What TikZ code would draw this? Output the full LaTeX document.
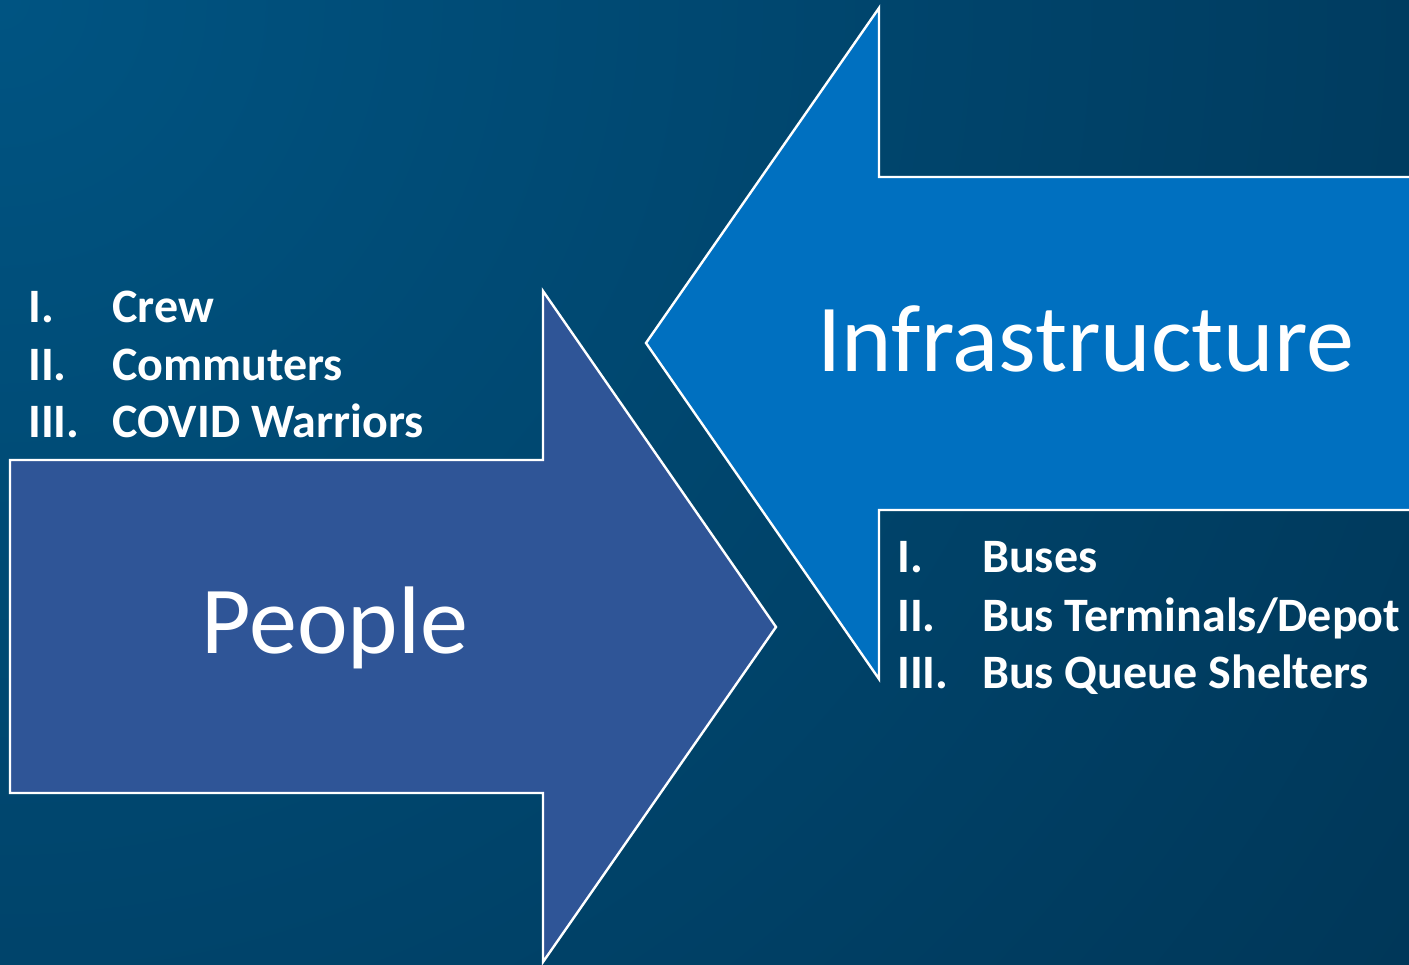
\documentclass[tikz,border=0pt]{standalone}
\usepackage{fontspec}
\setmainfont{Carlito}
\definecolor{bgA}{RGB}{0,84,130}
\definecolor{bgB}{RGB}{0,26,47}
\definecolor{peopleblue}{RGB}{47,85,151}
\definecolor{infrablue}{RGB}{0,112,192}
\pgfdeclareradialshading{bgshade}{\pgfpoint{0bp}{0bp}}{color(0bp)=(bgA); color(50bp)=(bgB)}
\tikzset{
  arrowshape/.style={draw=white, line width=2.4pt, line join=miter},
  listnum/.style={anchor=base west, inner sep=0pt, text=white, font=\fontsize{48}{54}\selectfont\bfseries},
  listtxt/.style={anchor=base west, inner sep=0pt, text=white, font=\fontsize{48}{54}\selectfont\bfseries},
  bigtxt/.style={anchor=base, inner sep=0pt, text=white, font=\fontsize{96}{100}\selectfont}
}
\begin{document}
\begin{tikzpicture}[x=1pt, y=-1pt]
\useasboundingbox (0,0) rectangle (1409,965);
\begin{scope}
  \clip (0,0) rectangle (1409,965);
  \shade[shading=bgshade] (-1710,-1710) rectangle (1710,1710);
  % Infrastructure arrow (pointing left)
  \filldraw[arrowshape, fill=infrablue]
    (1420,177) -- (879,177) -- (879,8) -- (646,343) -- (879,679) -- (879,510) -- (1420,510);
  % People arrow (pointing right)
  \filldraw[arrowshape, fill=peopleblue]
    (10,460) -- (543,460) -- (543,291) -- (776,627) -- (543,962) -- (543,793) -- (10,793) -- cycle;
\end{scope}
\node[bigtxt] (infra) at (1086,372) {Infrastructure};
\node[bigtxt] (people) at (335,653) {People};
% People list
\node[listnum] (pn1) at (28,323) {I.};
\node[listtxt] (pt1) at (112,323) {Crew};
\node[listnum] (pn2) at (28,381) {II.};
\node[listtxt] (pt2) at (112,381) {Commuters};
\node[listnum] (pn3) at (28,438) {III.};
\node[listtxt] (pt3) at (112,438) {COVID Warriors};
% Infrastructure list
\node[listnum] (in1) at (897,572) {I.};
\node[listtxt] (it1) at (982,572) {Buses};
\node[listnum] (in2) at (897,631) {II.};
\node[listtxt] (it2) at (982,631) {Bus Terminals/Depot};
\node[listnum] (in3) at (897,688) {III.};
\node[listtxt] (it3) at (982,688) {Bus Queue Shelters};
\end{tikzpicture}
\end{document}
